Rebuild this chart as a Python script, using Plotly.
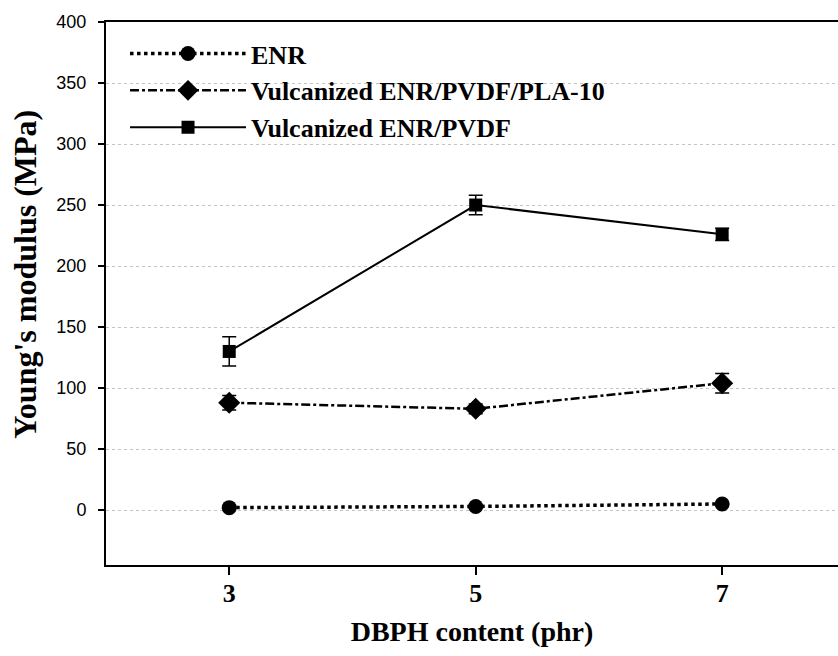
import plotly.graph_objects as go

dbph = [3, 5, 7]
enr = [2, 3, 5]
enr_err = [0, 0, 0]
pla10 = [88, 83, 104]
pla10_err = [6, 4, 8]
pvdf = [130, 250, 226]
pvdf_err = [12, 8, 5]

names = ["ENR", "Vulcanized ENR/PVDF/PLA-10", "Vulcanized ENR/PVDF"]
y_ticks = [0, 50, 100, 150, 200, 250, 300, 350, 400]
x_title = "DBPH content (phr)"
y_title = "Young's modulus (MPa)"

serif = "Liberation Serif, Times New Roman, serif"
sans = "Liberation Sans, Arial, sans-serif"

fig = go.Figure()
fig.add_trace(go.Scatter(
    x=dbph, y=enr, name=names[0], mode="lines+markers",
    line=dict(color="black", width=3.5, dash="dot"),
    marker=dict(symbol="circle", size=15, color="black"),
    error_y=dict(type="data", array=enr_err, visible=True, color="black", thickness=1.5, width=7),
))
fig.add_trace(go.Scatter(
    x=dbph, y=pla10, name=names[1], mode="lines+markers",
    line=dict(color="black", width=2.5, dash="dashdot"),
    marker=dict(symbol="diamond", size=17, color="black"),
    error_y=dict(type="data", array=pla10_err, visible=True, color="black", thickness=1.5, width=7),
))
fig.add_trace(go.Scatter(
    x=dbph, y=pvdf, name=names[2], mode="lines+markers",
    line=dict(color="black", width=2, dash="solid"),
    marker=dict(symbol="square", size=13, color="black"),
    error_y=dict(type="data", array=pvdf_err, visible=True, color="black", thickness=1.5, width=7),
))

fig.update_layout(
    width=838, height=656,
    margin=dict(l=106, r=0, t=22, b=91),
    paper_bgcolor="white", plot_bgcolor="white",
    showlegend=True,
    legend=dict(
        x=0.026, y=0.985, xanchor="left", yanchor="top",
        font=dict(family=serif, size=26, color="black", weight="bold"),
        bgcolor="rgba(0,0,0,0)", itemwidth=116, tracegroupgap=0,
    ),
    xaxis=dict(
        range=[2, 7.94], tickvals=dbph, ticktext=[str(v) for v in dbph],
        showline=True, linecolor="black", linewidth=2, mirror=True,
        ticks="outside", ticklen=8, tickwidth=2, tickcolor="black",
        showgrid=False, zeroline=False, ticklabelstandoff=-4,
        tickfont=dict(family=serif, size=26, color="black", weight="bold"),
        title=dict(text=x_title, standoff=14,
                   font=dict(family=serif, size=28, color="black", weight="bold")),
    ),
    yaxis=dict(
        range=[-45, 400], tickvals=y_ticks, ticktext=[str(v) for v in y_ticks],
        showline=True, linecolor="black", linewidth=2,
        ticks="outside", ticklen=6, tickwidth=1.5, tickcolor="black",
        showgrid=True, gridcolor="#c4c4c4", gridwidth=1, griddash="dot",
        zeroline=False, ticklabelstandoff=8,
        tickfont=dict(family=sans, size=18, color="black"),
    ),
    annotations=[dict(
        text=y_title, xref="paper", yref="paper", x=-0.111, y=0.536,
        xanchor="center", yanchor="middle", textangle=-90, showarrow=False,
        font=dict(family=serif, size=32, color="black", weight="bold"),
    )],
)

fig.write_html("out.html")
